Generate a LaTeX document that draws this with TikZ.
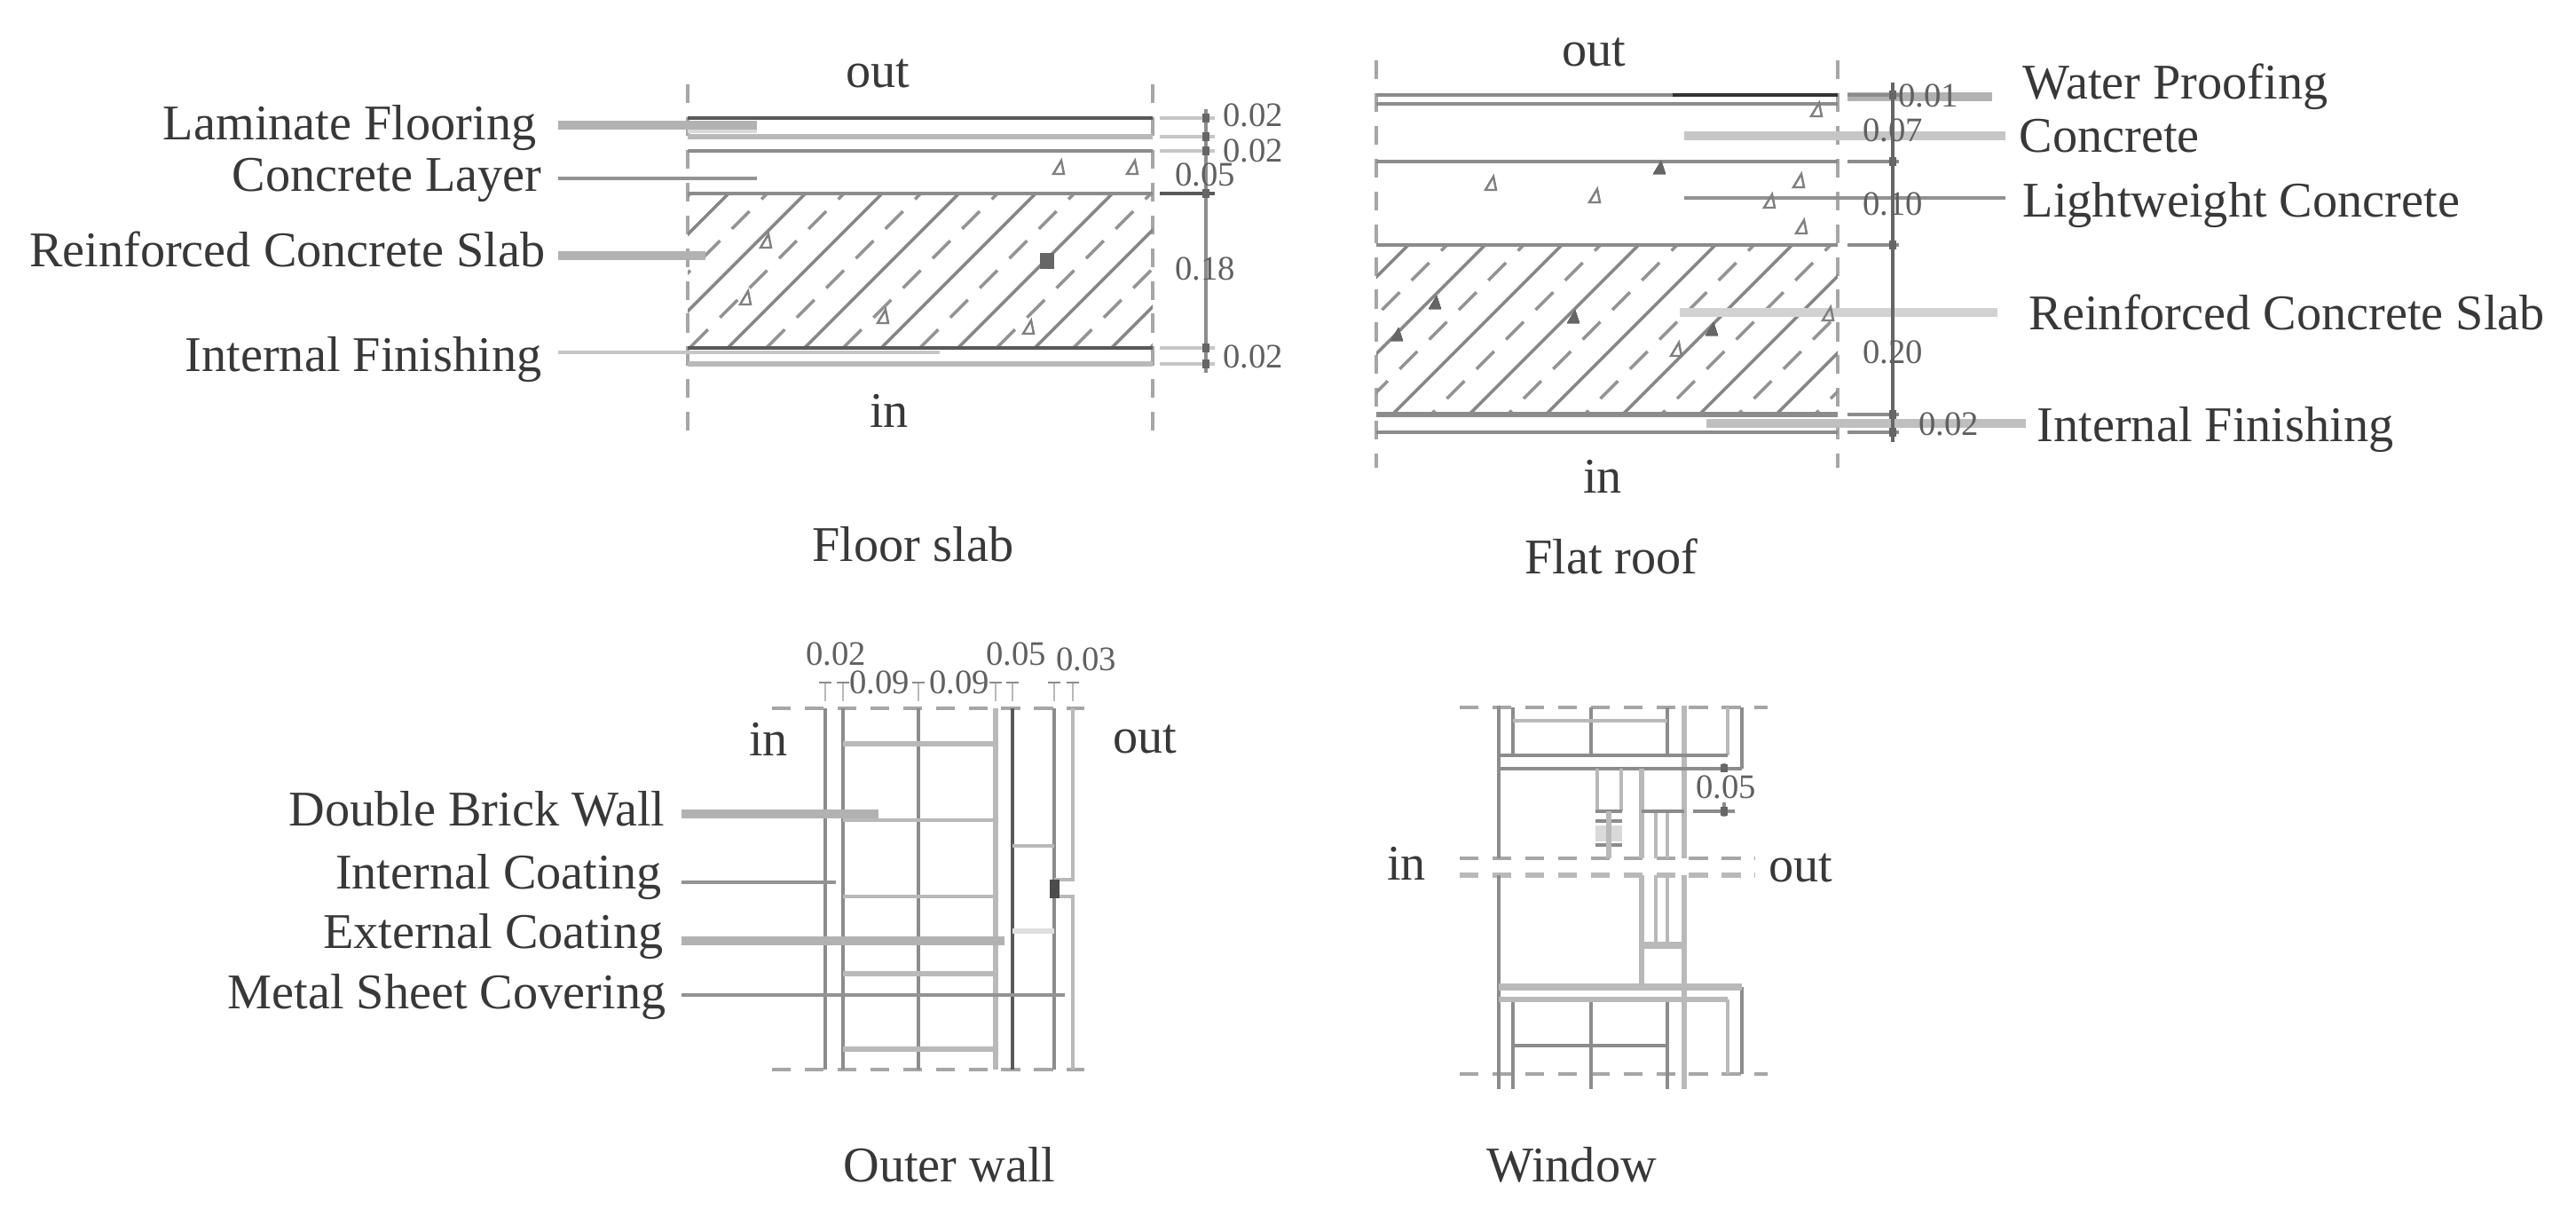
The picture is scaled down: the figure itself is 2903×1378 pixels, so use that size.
\documentclass[tikz,border=0pt]{standalone}
\usepackage{fontspec}
\setmainfont{Liberation Serif}
\definecolor{inkgray}{gray}{0.22}
\tikzset{
  txt/.style={inner sep=0pt,text=inkgray,font=\fontsize{16}{18}\selectfont},
  dimtxt/.style={inner sep=0pt,text=inkgray!80,font=\fontsize{11}{13}\selectfont},
  wall/.style={gray!90,line width=1.1pt},
  darkwall/.style={black!65,line width=1.1pt},
  lightwall/.style={gray!55,line width=1.9pt},
  leader/.style={gray!85,line width=1.1pt},
  lightleader/.style={gray!45,line width=1.5pt},
  thickleader/.style={gray!60,line width=2.6pt},
  axisdash/.style={gray!70,line width=0.9pt,dash pattern=on 6pt off 4.5pt},
  hatchlong/.style={gray!95,line width=1pt},
  hatchshort/.style={gray!85,line width=1pt,dash pattern=on 8pt off 5.4pt,dash phase=5.4pt},
  dimline/.style={gray!90,line width=0.9pt},
  stone/.style={gray,line width=0.7pt},
  dimdot/.style={fill=black!60},
}
% hatched slab: left, top, right, bottom, first line
\newcommand{\slabhatch}[5]{
  \begin{scope}
    \clip (#1,#2) rectangle (#3,#4);
    \foreach \hk in {0,...,8} {
      \draw[hatchlong] ({#5+86.5*\hk},#2) -- ++(-300,300);
      \draw[hatchshort] ({#5+86.5*\hk-43},#2) -- ++(-300,300);
    }
  \end{scope}
}
\newcommand{\stonemark}[1]{\draw[stone] (#1) ++(-7,6) -- ++(9,-15) -- ++(3,15) -- cycle;}
\newcommand{\dimdotmark}[1]{\fill[dimdot] (#1) ++(-4,-5) rectangle ++(8,10);}
\begin{document}
\begin{tikzpicture}[x=0.01cm,y=-0.01cm,>=stealth]
  \useasboundingbox (0,0) rectangle (2903,1378);

  % ---- floor slab
  \node[txt] (fsout) at (989,83) {out};
  \node[txt] (fsin) at (1002,463) {in};
  \node[txt] (fscap) at (1029,613) {Floor slab};
  \node[txt,anchor=east] (fslam) at (605,144) {Laminate Flooring};
  \node[txt,anchor=east] (fscon) at (611,203) {Concrete Layer};
  \node[txt,anchor=east] (fsrei) at (615,281) {Reinforced Concrete Slab};
  \node[txt,anchor=east] (fsint) at (611,405) {Internal Finishing};
  \draw[axisdash] (775,95) -- (775,493);
  \draw[axisdash] (1299,95) -- (1299,493);
  \slabhatch{775}{218}{1299}{392}{821}
  \fill[gray!30] (775,137) rectangle (853,150);
  \draw[darkwall] (775,133) -- (1299,133);
  \draw[lightwall] (775,154) -- (1299,154);
  \draw[wall] (775,170) -- (1299,170);
  \draw[wall] (775,218) -- (1299,218);
  \draw[darkwall] (775,392) -- (1299,392);
  \draw[lightwall] (775,410) -- (1299,410);
  \coordinate (fslamend) at (853,141);
  \coordinate (fsconend) at (853,201);
  \coordinate (fsreiend) at (795,288);
  \coordinate (fsintend) at (1059,397);
  \draw[thickleader] (fslam.east |- fslamend) [shorten <=6.8pt] -- (fslamend);
  \draw[leader] (fscon.east |- fsconend) [shorten <=5.1pt] -- (fsconend);
  \draw[thickleader] (fsrei.east |- fsreiend) [shorten <=4pt] -- (fsreiend);
  \draw[lightleader,line width=1pt] (fsint.east |- fsintend) [shorten <=5.1pt] -- (fsintend);
  \draw[dimline] (1359,123) -- (1359,420);
  \foreach \dy in {133,154,170,392,410} {
    \draw[lightleader,line width=1.1pt] (1307,\dy) -- (1369,\dy);
    \dimdotmark{1359,\dy}
  }
  \draw[darkwall] (1307,218) -- (1369,218);
  \dimdotmark{1359,218}
  \node[dimtxt] (fsda) at (1412,130) {0.02};
  \node[dimtxt] (fsdb) at (1412,170) {0.02};
  \node[dimtxt] (fsdc) at (1358,197) {0.05};
  \node[dimtxt] (fsdd) at (1358,303) {0.18};
  \node[dimtxt] (fsde) at (1412,402) {0.02};
  \foreach \sx/\sy in {1194/190,1277/190,864/273,841/337,996/358,1160/370}
    \stonemark{\sx,\sy}
  \fill[black!60] (1172,285) rectangle (1188,303);

  % ---- flat roof
  \node[txt] (frout) at (1796,59) {out};
  \node[txt] (frin) at (1806,537) {in};
  \node[txt] (frcap) at (1816,627) {Flat roof};
  \node[txt,anchor=west] (frwat) at (2279,98) {Water Proofing};
  \node[txt,anchor=west] (frcon) at (2275,153) {Concrete};
  \node[txt,anchor=west] (frlig) at (2279,231) {Lightweight Concrete};
  \node[txt,anchor=west] (frrei) at (2286,352) {Reinforced Concrete Slab};
  \node[txt,anchor=west] (frint) at (2295,484) {Internal Finishing};
  \draw[axisdash] (1551,68) -- (1551,527);
  \draw[axisdash] (2071,68) -- (2071,527);
  \slabhatch{1551}{276}{2071}{467}{1587}
  \draw[wall] (1551,107) -- (1885,107);
  \draw[black!80,line width=1.3pt] (1885,107) -- (2071,107);
  \draw[wall] (1551,117) -- (2071,117);
  \draw[wall] (1551,182) -- (2071,182);
  \draw[wall] (1551,276) -- (2071,276);
  \draw[wall,line width=1.5pt] (1551,467) -- (2071,467);
  \draw[wall] (1551,487) -- (2071,487);
  \coordinate (frwatend) at (2082,109);
  \coordinate (frconend) at (1898,153);
  \coordinate (frligend) at (1898,223);
  \coordinate (frreiend) at (1893,352);
  \coordinate (frintend) at (1923,477);
  \draw[thickleader] (frwat.west |- frwatend) [shorten <=9.7pt] -- (frwatend);
  \draw[thickleader,gray!45] (frcon.west |- frconend) [shorten <=4.3pt] -- (frconend);
  \draw[leader] (frlig.west |- frligend) [shorten <=5.4pt] -- (frligend);
  \draw[thickleader,gray!35] (frrei.west |- frreiend) [shorten <=10pt] -- (frreiend);
  \draw[thickleader,gray!50] (frint.west |- frintend) [shorten <=3.4pt] -- (frintend);
  \draw[dimline,black!60] (2133,93) -- (2133,498);
  \draw[darkwall] (2082,107) -- (2140,107);
  \foreach \dy in {107,182,276,467,487} {
    \draw[wall] (2082,\dy) -- (2140,\dy);
    \dimdotmark{2133,\dy}
  }
  \node[dimtxt] (frda) at (2173,108) {0.01};
  \node[dimtxt] (frdb) at (2133,147) {0.07};
  \node[dimtxt] (frdc) at (2133,230) {0.10};
  \node[dimtxt] (frdd) at (2133,397) {0.20};
  \node[dimtxt] (frde) at (2196,478) {0.02};
  \foreach \sx/\sy in {2048/125,1681/208,1798/222,2028/205,1995/228,2031/257,1890/395,2061/355}
    \stonemark{\sx,\sy}
  \foreach \sx/\sy in {1870/190,1617/342,1574/378,1773/358,1929/372}
    \fill[black!60] (\sx,\sy) ++(-7,6) -- ++(9,-15) -- ++(5,15) -- cycle;

  % ---- outer wall
  \node[txt] (owin) at (866,833) {in};
  \node[txt] (owout) at (1290,833) {out};
  \node[txt] (owcap) at (1070,1312) {Outer wall};
  \node[txt,anchor=east] (owbri) at (750,911) {Double Brick Wall};
  \node[txt,anchor=east] (owint) at (746,988) {Internal Coating};
  \node[txt,anchor=east] (owext) at (748,1055) {External Coating};
  \node[txt,anchor=east] (owmet) at (751,1123) {Metal Sheet Covering};
  \foreach \dy in {798,1205}
    \draw[axisdash] (870,\dy) -- (1222,\dy);
  \foreach \wx in {930,950,1035,1188}
    \draw[wall] (\wx,798) -- (\wx,1205);
  \draw[lightwall] (1122,798) -- (1122,1205);
  \draw[darkwall] (1141,798) -- (1141,1205);
  \draw[lightwall,line width=1pt] (1209,798) -- (1209,991) -- (1188,991);
  \draw[lightwall,line width=1pt] (1188,1010) -- (1209,1010) -- (1209,1205);
  \fill[black!70] (1183,991) rectangle (1194,1012);
  \draw[lightwall] (950,838) -- (1122,838);
  \draw[lightwall,line width=1pt] (950,924) -- (1122,924);
  \draw[lightwall,line width=1pt] (950,1010) -- (1122,1010);
  \draw[lightwall] (950,1097) -- (1122,1097);
  \draw[lightwall] (950,1182) -- (1122,1182);
  \draw[lightwall,line width=1.2pt] (1141,953) -- (1188,953);
  \draw[lightwall,gray!25] (1141,1049) -- (1188,1049);
  \coordinate (owbriend) at (990,917);
  \coordinate (owintend) at (942,994);
  \coordinate (owextend) at (1132,1060);
  \coordinate (owmetend) at (1200,1121);
  \draw[thickleader] (owbri.east |- owbriend) [shorten <=5.1pt] -- (owbriend);
  \draw[leader] (owint.east |- owintend) [shorten <=6.3pt] -- (owintend);
  \draw[thickleader] (owext.east |- owextend) [shorten <=5.7pt] -- (owextend);
  \draw[leader] (owmet.east |- owmetend) [shorten <=4.8pt] -- (owmetend);
  \foreach \wx in {930,950,1035,1122,1141,1188,1209} {
    \draw[lightwall,line width=0.8pt] (\wx,770) -- (\wx,790);
    \draw[gray!90,line width=0.8pt] (\wx-7,769) -- (\wx+7,769);
  }
  \node[dimtxt] (owda) at (942,737) {0.02};
  \node[dimtxt] (owdb) at (991,769) {0.09};
  \node[dimtxt] (owdc) at (1081,769) {0.09};
  \node[dimtxt] (owdd) at (1145,737) {0.05};
  \node[dimtxt] (owde) at (1224,743) {0.03};

  % ---- window
  \node[txt] (wdin) at (1585,973) {in};
  \node[txt] (wdout) at (2029,978) {out};
  \node[txt] (wdcap) at (1771,1312) {Window};
  \foreach \dy in {797,1210}
    \draw[axisdash] (1645,\dy) -- (1992,\dy);
  \draw[axisdash] (1645,967) -- (1978,967);
  \draw[axisdash,line width=1.6pt,gray!55] (1645,986) -- (1978,986);
  \draw[wall] (1689,795) -- (1689,967);
  \draw[wall] (1689,986) -- (1689,1227);
  \draw[lightwall] (1898,795) -- (1898,967);
  \draw[lightwall] (1898,986) -- (1898,1227);
  \foreach \wx in {1705,1793,1879} {
    \draw[wall] (\wx,797) -- (\wx,851);
    \draw[wall] (\wx,1126) -- (\wx,1227);
  }
  \draw[lightwall,line width=1pt] (1947,797) -- (1947,851);
  \draw[lightwall,line width=1pt] (1947,1126) -- (1947,1210);
  \draw[wall] (1963,797) -- (1963,866);
  \draw[wall] (1963,1112) -- (1963,1210);
  \draw[lightwall,line width=1.2pt] (1705,812) -- (1879,812);
  \draw[wall] (1689,851) -- (1947,851);
  \draw[wall] (1689,866) -- (1963,866);
  \draw[lightwall,line width=2.2pt] (1689,1112) -- (1963,1112);
  \draw[lightwall] (1689,1126) -- (1947,1126);
  \draw[wall] (1705,1178) -- (1879,1178);
  \draw[lightwall,line width=1pt] (1800,866) -- (1800,914);
  \draw[lightwall,line width=1pt] (1827,866) -- (1827,914);
  \fill[gray!30] (1798,930) rectangle (1828,948);
  \draw[wall] (1798,914) -- (1828,914);
  \draw[wall] (1798,925) -- (1828,925);
  \draw[wall] (1798,952) -- (1828,952);
  \draw[lightwall] (1813,914) -- (1813,967);
  \draw[lightwall] (1850,866) -- (1850,967);
  \draw[lightwall] (1850,986) -- (1850,1110);
  \foreach \wx in {1866,1879} {
    \draw[lightwall,line width=1.2pt] (\wx,915) -- (\wx,967);
    \draw[lightwall,line width=1.2pt] (\wx,986) -- (\wx,1063);
  }
  \draw[wall] (1850,914) -- (1898,914);
  \draw[lightwall,line width=2.2pt] (1850,1065) -- (1898,1065);
  \draw[wall] (1908,914) -- (1955,914);
  \draw[dimline] (1943,860) -- (1943,920);
  \dimdotmark{1943,866}
  \dimdotmark{1943,914}
  \node[dimtxt,fill=white,inner sep=1pt] (wddim) at (1945,887) {0.05};
\end{tikzpicture}
\end{document}
